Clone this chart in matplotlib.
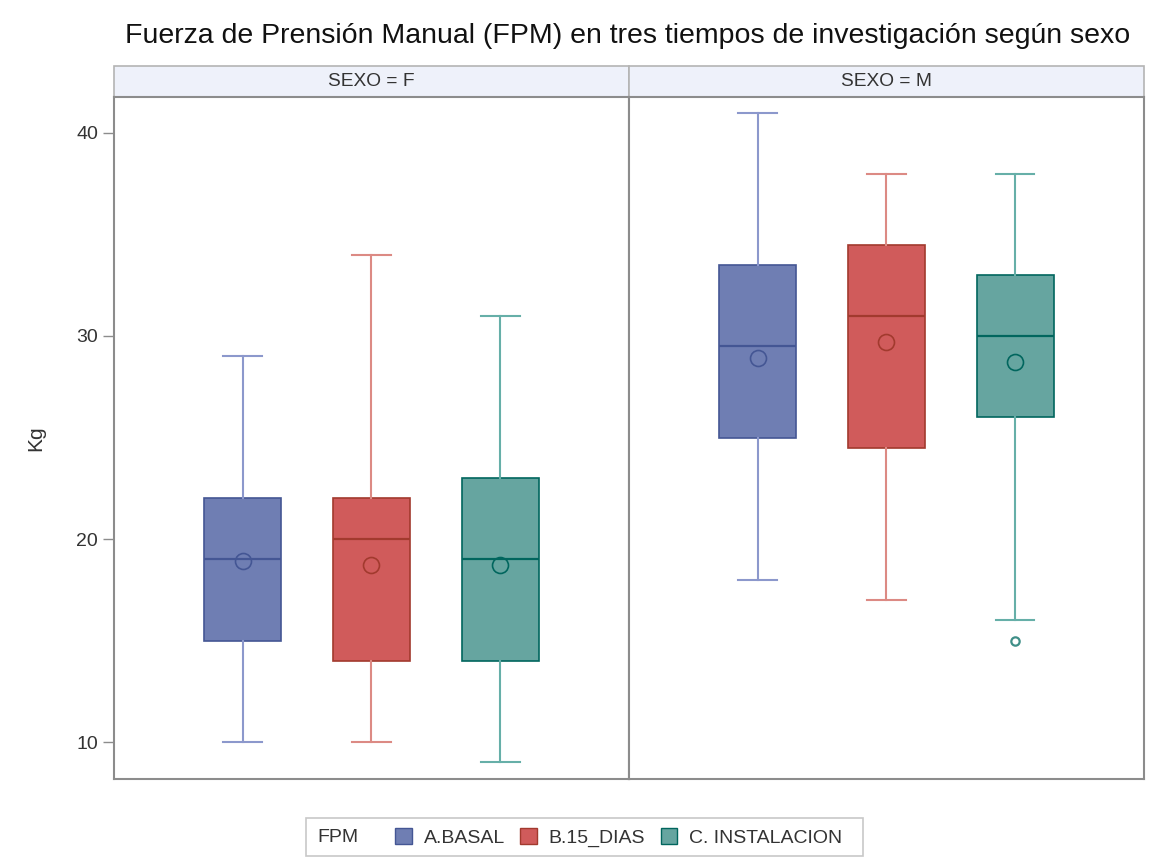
import numpy as np
import matplotlib.pyplot as plt
from matplotlib.patches import Patch, Rectangle

plt.rcParams['font.family'] = ['Liberation Sans', 'DejaVu Sans']

# 数据
sexos = ['F', 'M']
grupos = ['A.BASAL', 'B.15_DIAS', 'C. INSTALACION']

# 每组: 下须, Q1, 中位数, Q3, 上须, 均值
F_low = [10, 10, 9]
F_q1 = [15, 14, 14]
F_med = [19, 20, 19]
F_q3 = [22, 22, 23]
F_high = [29, 34, 31]
F_mean = [18.9, 18.7, 18.7]
F_out = [[], [], []]

M_low = [18, 17, 16]
M_q1 = [25, 24.5, 26]
M_med = [29.5, 31, 30]
M_q3 = [33.5, 34.5, 33]
M_high = [41, 38, 38]
M_mean = [28.9, 29.7, 28.7]
M_out = [[], [], [15]]

fill_colors = ['#6F7EB3', '#D05B5B', '#66A5A0']
edge_colors = ['#445694', '#A23A2E', '#01665E']
whisker_colors = ['#8C98CC', '#DC8A84', '#66AFA8']

datos = {
    'F': (F_low, F_q1, F_med, F_q3, F_high, F_mean, F_out),
    'M': (M_low, M_q1, M_med, M_q3, M_high, M_mean, M_out),
}

fig = plt.figure(figsize=(11.63, 8.67), dpi=100)
axes = [fig.add_axes([0.098, 0.1015, 0.4428, 0.7866]),
        fig.add_axes([0.5408, 0.1015, 0.4428, 0.7866])]

for ax, sexo in zip(axes, sexos):
    low, q1, med, q3, high, mean, out = datos[sexo]
    for i in range(len(grupos)):
        st = [dict(whislo=low[i], q1=q1[i], med=med[i], q3=q3[i], whishi=high[i],
                   mean=mean[i], fliers=out[i], label=grupos[i])]
        ax.bxp(st, positions=[i + 1], widths=0.6, patch_artist=True,
               showmeans=True, meanline=False,
               boxprops=dict(facecolor=fill_colors[i], edgecolor=edge_colors[i], linewidth=1.2),
               medianprops=dict(color=edge_colors[i], linewidth=1.6),
               whiskerprops=dict(color=whisker_colors[i], linewidth=1.5),
               capprops=dict(color=whisker_colors[i], linewidth=1.5),
               capwidths=0.3,
               meanprops=dict(marker='o', markerfacecolor='none', markeredgecolor=edge_colors[i],
                              markersize=11.5, markeredgewidth=1.2),
               flierprops=dict(marker='o', markerfacecolor='none', markeredgecolor='#3f8f88',
                               markersize=6, markeredgewidth=1.6))
    ax.set_xlim(0, 4)
    ax.set_ylim(8.18, 41.77)
    ax.set_xticks([])
    for s in ax.spines.values():
        s.set_color('#8c8c8c')
        s.set_linewidth(1.5)
    ax.tick_params(axis='y', colors='#8c8c8c', labelcolor='#333333', labelsize=14, length=8, width=1)
    # 分面标题
    ax.add_patch(Rectangle((0, 1.0), 1, 0.0455, transform=ax.transAxes, clip_on=False,
                           facecolor='#EEF1FA', edgecolor='#b4b4b4', linewidth=1.2))
    ax.text(0.5, 1.023, 'SEXO = ' + sexo, transform=ax.transAxes, ha='center', va='center',
            fontsize=13.8, color='#333333')

axes[0].set_yticks([10, 20, 30, 40])
axes[0].set_ylabel('Kg', fontsize=15, color='#333333', labelpad=22)
axes[1].set_yticks([])

fig.text(0.5396, 0.959, 'Fuerza de Prensión Manual (FPM) en tres tiempos de investigación según sexo',
         ha='center', va='center', fontsize=20.5, color='#111111')

# 图例
handles = [Patch(facecolor=fill_colors[i], edgecolor=edge_colors[i]) for i in range(3)]
leg = fig.legend(handles, grupos, loc='center', bbox_to_anchor=(0.532, 0.034), ncol=3,
                 frameon=False, fontsize=14, handlelength=0.85, handleheight=0.85,
                 handletextpad=0.6, columnspacing=0.8, labelcolor='#333333')
fig.text(0.2725, 0.034, 'FPM', ha='left', va='center', fontsize=14, color='#333333')
fig.add_artist(Rectangle((0.263, 0.013), 0.479, 0.043, transform=fig.transFigure,
                         facecolor='white', edgecolor='#c8c8c8', linewidth=1.2, zorder=-1))

fig.savefig('out.png', dpi=100, facecolor='white')
